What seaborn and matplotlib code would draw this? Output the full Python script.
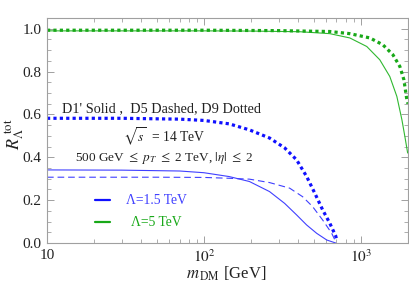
import numpy as np
import matplotlib
matplotlib.use("Agg")
import matplotlib.pyplot as plt
import matplotlib.ticker as mticker
import seaborn as sns

# D1' (solid), D5 (dashed), D9 (dotted) -- Lambda = 1.5 TeV
m_d1_15 = [10, 30, 70, 100, 145, 195, 262, 327, 390, 452, 524, 607, 692]
r_d1_15 = [0.341, 0.340, 0.336, 0.328, 0.310, 0.287, 0.240, 0.185, 0.131, 0.084, 0.045, 0.014, 0.0]

m_d5_15 = [10, 50, 100, 145, 195, 262, 352, 426, 493, 572, 653, 692]
r_d5_15 = [0.307, 0.307, 0.306, 0.302, 0.298, 0.282, 0.256, 0.216, 0.170, 0.107, 0.045, 0.006]

m_d9_15 = [10, 30, 70, 100, 145, 195, 262, 327, 390, 452, 508, 572, 634, 692, 705]
r_d9_15 = [0.582, 0.582, 0.578, 0.572, 0.556, 0.528, 0.490, 0.444, 0.388, 0.310, 0.234, 0.154,
           0.093, 0.033, 0.010]

# Lambda = 5 TeV
m_d1_5 = [10, 100, 200, 408, 634, 851, 1092, 1322, 1531, 1698, 1829, 1910, 1990]
r_d1_5 = [0.990, 0.990, 0.989, 0.986, 0.977, 0.957, 0.917, 0.855, 0.777, 0.684, 0.575, 0.497, 0.420]

m_d9_5 = [10, 100, 300, 634, 851, 1143, 1383, 1601, 1774, 1883, 1967, 2000]
r_d9_5 = [0.993, 0.993, 0.991, 0.987, 0.977, 0.957, 0.925, 0.879, 0.824, 0.762, 0.668, 0.650]

blue = "#1010ff"
blue_thin = "#4040ff"
green = "#18a818"
green_thin = "#30b830"

sns.set_style("ticks")
plt.rcParams["font.family"] = ["Liberation Serif", "DejaVu Serif"]
plt.rcParams["mathtext.fontset"] = "stix"

W, H = 409, 286
fig = plt.figure(figsize=(W / 100, H / 100), dpi=100)
ax = fig.add_axes([47 / W, 1 - 243 / H, 361 / W, 225 / H])
ax.set_xscale("log")

sns.lineplot(x=m_d1_15, y=r_d1_15, ax=ax, color=blue_thin, lw=0.8, sort=False)
sns.lineplot(x=m_d5_15, y=r_d5_15, ax=ax, color=blue_thin, lw=0.8, sort=False)
ax.lines[-1].set_dashes((6, 3.5))
sns.lineplot(x=m_d9_15, y=r_d9_15, ax=ax, color=blue, lw=2.3, sort=False)
ax.lines[-1].set_linestyle((0, (1, 1)))
sns.lineplot(x=m_d1_5, y=r_d1_5, ax=ax, color=green_thin, lw=0.8, sort=False)
sns.lineplot(x=m_d9_5, y=r_d9_5, ax=ax, color=green, lw=2.3, sort=False)
ax.lines[-1].set_linestyle((0, (1, 1)))

ax.set_xlim(10, 2000)
ax.set_ylim(0, 1.05)

ax.xaxis.set_major_locator(mticker.FixedLocator([10, 100, 1000]))
ax.xaxis.set_major_formatter(mticker.FixedFormatter(["10", "$10^2$", "$10^3$"]))
ax.xaxis.set_minor_locator(mticker.LogLocator(base=10, subs=np.arange(2, 10)))
ax.xaxis.set_minor_formatter(mticker.NullFormatter())
ax.yaxis.set_major_locator(mticker.MultipleLocator(0.2))
ax.yaxis.set_major_formatter(mticker.FormatStrFormatter("%.1f"))
ax.yaxis.set_minor_locator(mticker.MultipleLocator(0.05))

frame = "#a0a0a0"
for s in ax.spines.values():
    s.set_visible(True)
    s.set_color(frame)
    s.set_linewidth(0.8)
ax.tick_params(which="both", direction="in", top=True, right=True,
               color=frame, labelsize=11, labelcolor="#222222", pad=4)
ax.tick_params(which="major", length=5, width=0.7)
ax.tick_params(which="minor", length=3, width=0.6)

ax.set_xlabel("")
ax.set_ylabel("")

fig.text(226 / W, 1 - 274 / H, r"$m_{\,\mathrm{DM}}$ [GeV]", ha="center", va="center",
         fontsize=12, color="#222222")
fig.text(15 / W, 1 - 134 / H, r"$R_{\Lambda}^{\ \mathrm{tot}}$", ha="center", va="center",
         fontsize=13, rotation=90, color="#222222")

fig.text(162 / W, 1 - 109 / H, "D1' Solid ,  D5 Dashed, D9 Dotted", ha="center",
         va="center", fontsize=10.3, color="#222222")
fig.text(164 / W, 1 - 137 / H, r"$\sqrt{s}$  = 14 TeV", ha="center", va="center",
         fontsize=9.8, color="#222222")
fig.text(164 / W, 1 - 158 / H,
         r"500 GeV $\leq$ $p_T$ $\leq$ 2 TeV, $|\eta|$ $\leq$ 2",
         ha="center", va="center", fontsize=9.5, color="#222222")

# legend drawn as Mathematica-style entries
fig.add_artist(plt.Line2D([95 / W, 110 / W], [1 - 200 / H] * 2, color=blue, lw=1.6))
fig.add_artist(plt.Line2D([95 / W, 110 / W], [1 - 222 / H] * 2, color=green, lw=1.6))
fig.text(126 / W, 1 - 200 / H, "Λ=1.5 TeV", ha="left", va="center",
         fontsize=9.8, color=blue_thin)
fig.text(131 / W, 1 - 222 / H, "Λ=5 TeV", ha="left", va="center",
         fontsize=9.8, color=green)

fig.savefig("out.png", dpi=100)
